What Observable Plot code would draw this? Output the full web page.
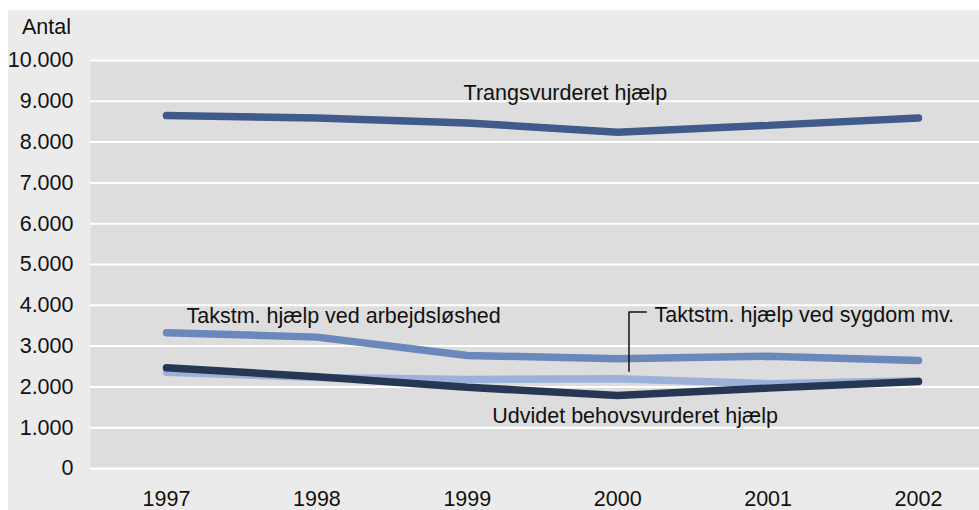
<!DOCTYPE html>
<html>
<head>
<meta charset="utf-8">
<script src="https://cdn.jsdelivr.net/npm/d3@7"></script>
<script src="https://cdn.jsdelivr.net/npm/@observablehq/plot@0.6"></script>
<style>
  html, body { margin: 0; padding: 0; background: #ffffff; }
  body { width: 979px; height: 510px; position: relative; overflow: hidden; font-family: "Liberation Sans", Arial, sans-serif; }
  #bg { position: absolute; left: 8px; top: 10px; width: 971px; height: 500px; background: #ebebeb; }
  #ylab { position: absolute; left: 22px; top: 17px; font-size: 21.5px; line-height: 21px; color: #111; }
</style>
</head>
<body>
<div id="bg"></div>
<div id="ylab">Antal</div>
<script>
// ---- data ----
const years = [1997, 1998, 1999, 2000, 2001, 2002];
const seriesNames = [
  "Trangsvurderet hjælp",
  "Takstm. hjælp ved arbejdsløshed",
  "Taktstm. hjælp ved sygdom mv.",
  "Udvidet behovsvurderet hjælp"
];
const trangsvurderet = [8650, 8590, 8470, 8240, 8410, 8590];
const arbejdsloshed = [3330, 3220, 2770, 2690, 2750, 2650];
const sygdom = [2360, 2230, 2180, 2200, 2080, 2150];
const udvidet = [2470, 2250, 1990, 1790, 1970, 2130];
const yTicks = [0, 1000, 2000, 3000, 4000, 5000, 6000, 7000, 8000, 9000, 10000];
const seriesColors = ["#405b8b", "#6b88bc", "#9cb1d9", "#263753"];

// annotation labels (data units)
const labelText = seriesNames;
const labelX = [1998.975, 1997.133, 2000.245, 1999.166];
const labelY = [9190, 3740, 3750, 1280];
const leaderX = [2000.19, 2000.075, 2000.075];
const leaderY = [3836, 3836, 2385];

// ---- build tables ----
const allValues = [trangsvurderet, arbejdsloshed, sygdom, udvidet];
const rows = [];
seriesNames.forEach((s, i) => years.forEach((yr, j) => rows.push({series: s, year: yr, value: allValues[i][j]})));
const labels = labelText.map((t, i) => ({text: t, x: labelX[i], y: labelY[i]}));
const leader = leaderX.map((x, i) => ({x, y: leaderY[i]}));
const fmt = d => d3.format(",")(d).replace(/,/g, ".");

const chart = Plot.plot({
  width: 971,
  height: 500,
  marginLeft: 82,
  marginRight: 0,
  marginTop: 50,
  marginBottom: 42,
  style: {background: "transparent", fontFamily: "'Liberation Sans', Arial, sans-serif", fontSize: "21.5px", color: "#111"},
  x: {type: "linear", domain: [1997, 2002], insetLeft: 76, insetRight: 61},
  y: {domain: [0, 10000]},
  color: {domain: seriesNames, range: seriesColors},
  marks: [
    Plot.frame({fill: "#dddddd", stroke: "none"}),
    Plot.gridY(yTicks, {stroke: "#ffffff", strokeOpacity: 1, strokeWidth: 2}),
    Plot.axisY(yTicks, {tickSize: 0, tickPadding: 17, tickFormat: fmt, label: null}),
    Plot.axisX(years, {tickSize: 0, tickPadding: 22, tickFormat: d => String(d), label: null}),
    Plot.lineY(rows, {x: "year", y: "value", z: "series", stroke: "series", strokeWidth: 7.5, strokeLinecap: "round", strokeLinejoin: "miter"}),
    Plot.line(leader, {x: "x", y: "y", stroke: "#111", strokeWidth: 1.5}),
    Plot.text(labels, {x: "x", y: "y", text: "text", textAnchor: "start", fill: "#111"})
  ]
});
document.getElementById("bg").appendChild(chart);
</script>
</body>
</html>
